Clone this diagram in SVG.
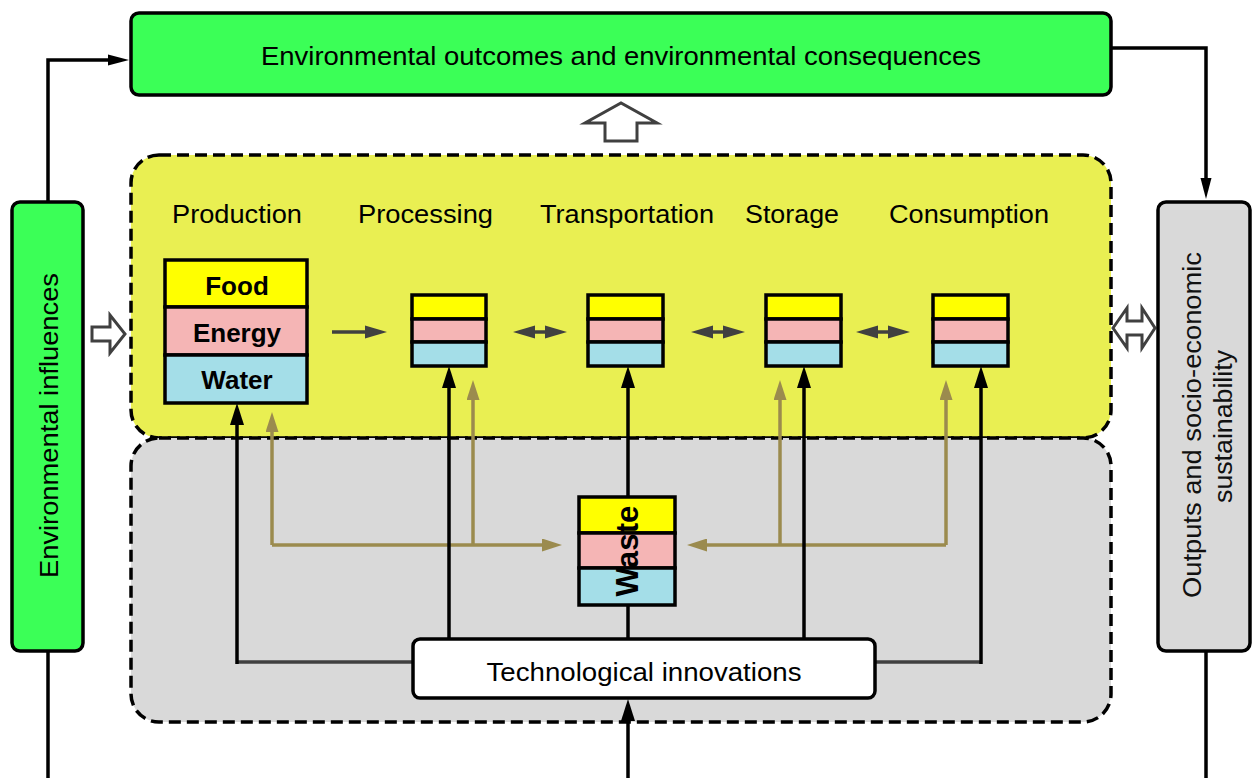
<svg xmlns="http://www.w3.org/2000/svg" width="1252" height="778" viewBox="0 0 1252 778">
<style>
text{font-family:"Liberation Sans",Arial,sans-serif;fill:#000}
.lbl{font-size:25px;text-anchor:middle}
.bold{font-size:26px;font-weight:bold;text-anchor:middle}
.green{fill:#3bff57;stroke:#000;stroke-width:3.5}
.panel{stroke:#000;stroke-width:3.5;stroke-dasharray:12 6}
.fy{fill:#ffff00;stroke:#000;stroke-width:3.5}
.fp{fill:#f5b5b5;stroke:#000;stroke-width:3.5}
.fb{fill:#a4dee8;stroke:#000;stroke-width:3.5}
.blk{stroke:#000;stroke-width:3.5;fill:none}
.olv{stroke:#9b8b4e;stroke-width:3.5;fill:none}
.dg{stroke:#404040;stroke-width:3.5;fill:none}
.hollow{fill:#fff;stroke:#404040;stroke-width:3;stroke-linejoin:miter}
</style>
<defs>
<marker id="hb" markerUnits="userSpaceOnUse" markerWidth="22" markerHeight="14" refX="8" refY="7" orient="auto"><path d="M0,0 L22,7 L0,14 z" fill="#000"/></marker>
<marker id="hs" markerUnits="userSpaceOnUse" markerWidth="21" markerHeight="12" refX="7" refY="6" orient="auto"><path d="M0,0.5 L21,6 L0,11.5 z" fill="#000"/></marker>
<marker id="ho" markerUnits="userSpaceOnUse" markerWidth="20" markerHeight="13" refX="8" refY="6.5" orient="auto"><path d="M0,0 L20,6.5 L0,13 z" fill="#9b8b4e"/></marker>
<marker id="hg" markerUnits="userSpaceOnUse" markerWidth="22" markerHeight="14" refX="8" refY="7" orient="auto-start-reverse"><path d="M0,0.5 L22,7 L0,13.5 z" fill="#404040"/></marker>
</defs>

<g id="panel-yellow"><rect class="panel" x="131" y="155" width="980" height="283" rx="28" fill="#e9ef52"/></g>
<g id="panel-grey"><rect class="panel" x="131" y="438" width="980" height="284" rx="28" fill="#d9d9d9"/></g>

<g id="connectors">
  <path class="blk" d="M48,202 V60 H115" marker-end="url(#hs)"/>
  <path class="blk" d="M48,651 V778"/>
  <path class="blk" d="M1111,48 H1206 V185" marker-end="url(#hs)"/>
  <path class="blk" d="M1206,651 V778"/>
  <path class="blk" d="M628,778 V713" marker-end="url(#hb)"/>
  <path class="hollow" d="M92,327 H110 V315 L125,334 L110,353 V341 H92 Z"/>
  <path class="hollow" d="M1113,328 L1127,308 V321 H1142 V308 L1155,328 L1142,348 V335 H1127 V348 Z"/>
  <path class="hollow" d="M605,141 V123 H585 L621,103 L657,123 H637 V141 Z"/>
  <line class="dg" x1="332" y1="332" x2="373" y2="332" marker-end="url(#hg)"/>
  <line class="dg" x1="527" y1="332" x2="553" y2="332" marker-start="url(#hg)" marker-end="url(#hg)"/>
  <line class="dg" x1="705" y1="332" x2="731" y2="332" marker-start="url(#hg)" marker-end="url(#hg)"/>
  <line class="dg" x1="870" y1="332" x2="896" y2="332" marker-start="url(#hg)" marker-end="url(#hg)"/>
  <path class="olv" d="M272,545 V424" marker-end="url(#ho)"/>
  <path class="olv" d="M473,545 V392" marker-end="url(#ho)"/>
  <path class="olv" d="M272,545 H550" marker-end="url(#ho)"/>
  <path class="olv" d="M780,545 V392" marker-end="url(#ho)"/>
  <path class="olv" d="M946,545 V392" marker-end="url(#ho)"/>
  <path class="olv" d="M946,545 H699" marker-end="url(#ho)"/>
  <path class="dg" d="M413,662 H237"/>
  <path class="dg" d="M876,662 H981"/>
  <path class="blk" d="M237,664 V417" marker-end="url(#hb)"/>
  <path class="blk" d="M449,639 V380" marker-end="url(#hb)"/>
  <path class="blk" d="M628,497 V380" marker-end="url(#hb)"/>
  <path class="blk" d="M628,639 V605"/>
  <path class="blk" d="M804,639 V380" marker-end="url(#hb)"/>
  <path class="blk" d="M981,664 V380" marker-end="url(#hb)"/>
</g>

<g id="node-outcomes">
  <rect class="green" x="131" y="13" width="980" height="82" rx="8"/>
  <text class="lbl" x="621" y="65" textLength="720" lengthAdjust="spacingAndGlyphs">Environmental outcomes and environmental consequences</text>
</g>
<g id="node-influences">
  <rect class="green" x="12" y="202" width="71" height="449" rx="8"/>
  <text class="lbl" transform="translate(58,425.5) rotate(-90)" x="0" y="0" textLength="305" lengthAdjust="spacingAndGlyphs">Environmental influences</text>
</g>
<g id="node-outputs">
  <rect x="1158" y="202" width="92" height="449" rx="8" fill="#d9d9d9" stroke="#000" stroke-width="3.5"/>
  <text class="lbl" transform="translate(1201,425) rotate(-90)" x="0" y="0" textLength="346" lengthAdjust="spacingAndGlyphs" style="fill:#111">Outputs and socio-economic</text>
  <text class="lbl" transform="translate(1232,426.5) rotate(-90)" x="0" y="0" textLength="153" lengthAdjust="spacingAndGlyphs" style="fill:#111">sustainability</text>
</g>

<g id="stage-labels">
  <text class="lbl" x="237" y="223" textLength="130" lengthAdjust="spacingAndGlyphs">Production</text>
  <text class="lbl" x="425.5" y="223" textLength="135" lengthAdjust="spacingAndGlyphs">Processing</text>
  <text class="lbl" x="627" y="223" textLength="174" lengthAdjust="spacingAndGlyphs">Transportation</text>
  <text class="lbl" x="792" y="223" textLength="94" lengthAdjust="spacingAndGlyphs">Storage</text>
  <text class="lbl" x="969" y="223" textLength="160" lengthAdjust="spacingAndGlyphs">Consumption</text>
</g>

<g id="node-production">
  <rect class="fy" x="165" y="260" width="142" height="47"/>
  <rect class="fp" x="165" y="307" width="142" height="48"/>
  <rect class="fb" x="165" y="355" width="142" height="48"/>
  <text class="bold" x="237" y="295">Food</text>
  <text class="bold" x="237" y="342">Energy</text>
  <text class="bold" x="237" y="389">Water</text>
</g>
<g id="node-processing">
  <rect class="fy" x="412" y="295" width="74" height="24"/>
  <rect class="fp" x="412" y="319" width="74" height="23"/>
  <rect class="fb" x="412" y="342" width="74" height="24"/>
</g>
<g id="node-transportation">
  <rect class="fy" x="588" y="295" width="75" height="24"/>
  <rect class="fp" x="588" y="319" width="75" height="23"/>
  <rect class="fb" x="588" y="342" width="75" height="24"/>
</g>
<g id="node-storage">
  <rect class="fy" x="766" y="295" width="75" height="24"/>
  <rect class="fp" x="766" y="319" width="75" height="23"/>
  <rect class="fb" x="766" y="342" width="75" height="24"/>
</g>
<g id="node-consumption">
  <rect class="fy" x="933" y="295" width="75" height="24"/>
  <rect class="fp" x="933" y="319" width="75" height="23"/>
  <rect class="fb" x="933" y="342" width="75" height="24"/>
</g>
<g id="node-waste">
  <rect class="fy" x="579" y="497" width="96" height="36"/>
  <rect class="fp" x="579" y="533" width="96" height="35"/>
  <rect class="fb" x="579" y="568" width="96" height="37"/>
  <text transform="translate(638,551) rotate(-90)" x="0" y="0" font-size="32" font-weight="bold" text-anchor="middle" textLength="91" lengthAdjust="spacingAndGlyphs">Waste</text>
</g>
<g id="node-tech">
  <rect x="413" y="639" width="462" height="59" rx="7" fill="#fff" stroke="#000" stroke-width="3.5"/>
  <text class="lbl" x="644" y="681" textLength="315" lengthAdjust="spacingAndGlyphs">Technological innovations</text>
</g>
</svg>
